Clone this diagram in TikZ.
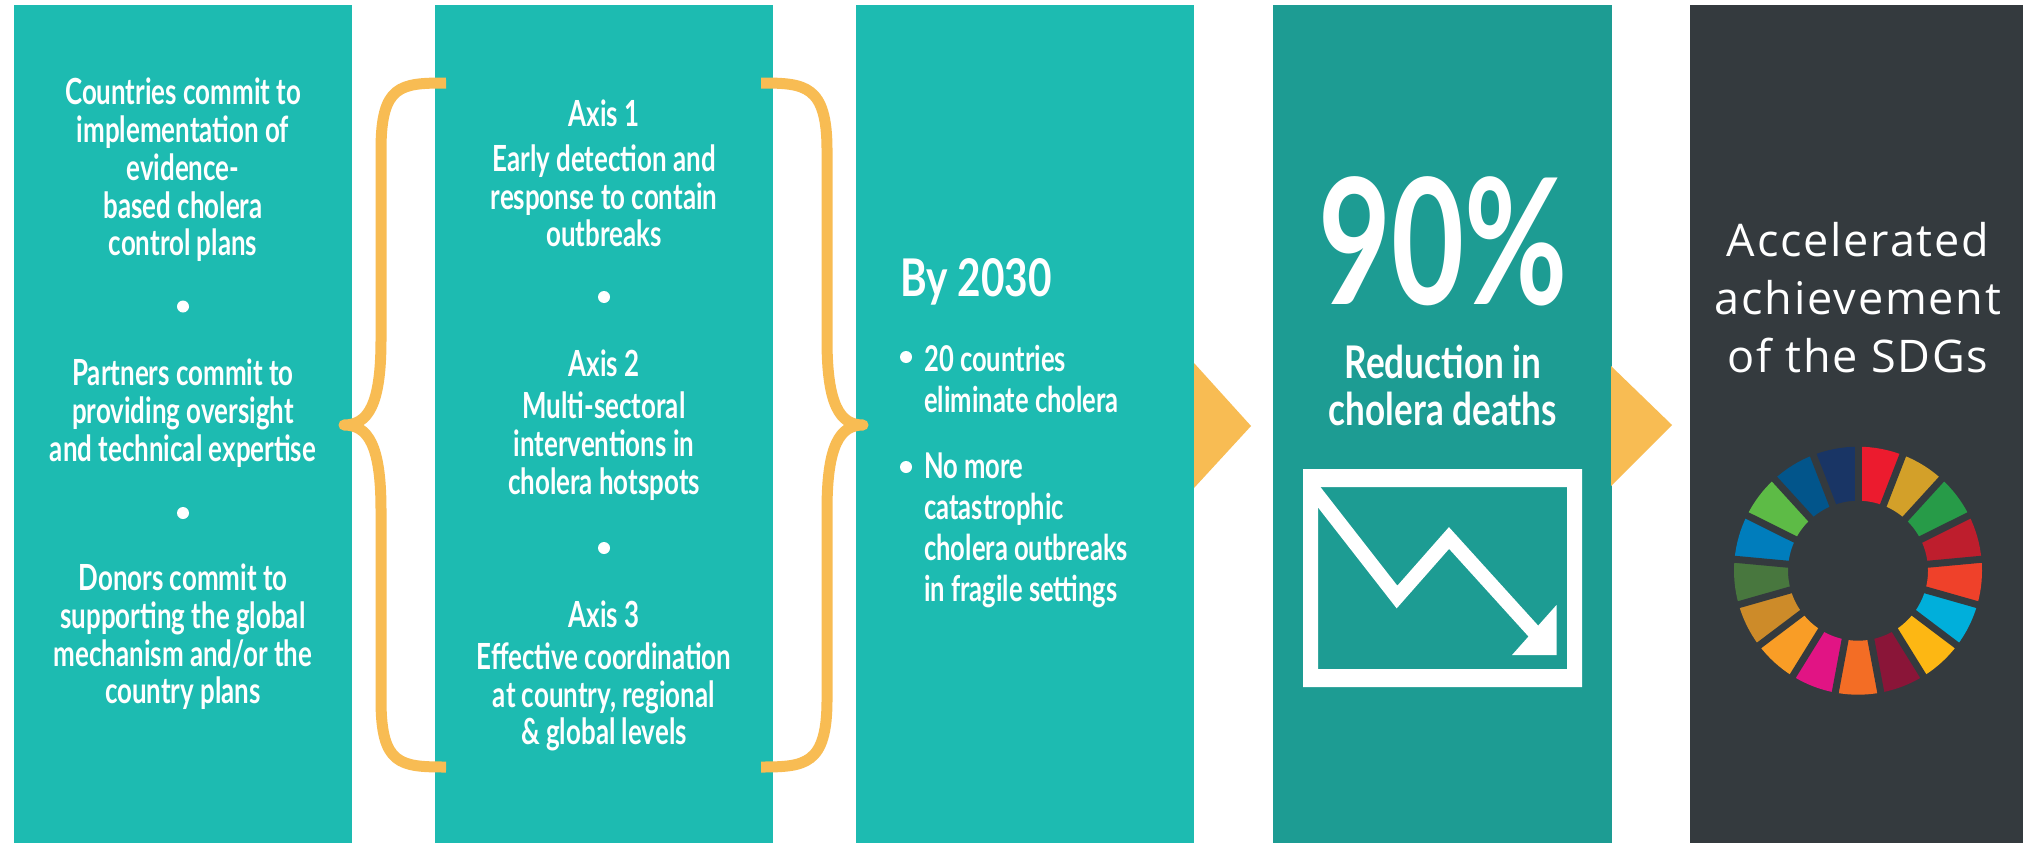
\documentclass[tikz,border=0pt]{standalone}
\usepackage{fontspec}
\usetikzlibrary{calc}
\setmainfont[FakeStretch=0.72,BoldFont=Lato Bold,BoldFeatures={FakeStretch=0.72}]{Lato}
\newfontfamily\slimfont[LetterSpace=4]{Open Sans}
\newfontfamily\bigfont[FakeStretch=0.72]{Lato Bold}
\newfontfamily\headfont[FakeStretch=0.78]{Lato Bold}
\definecolor{tealA}{HTML}{1DBBB1}
\definecolor{tealB}{HTML}{1D9C93}
\definecolor{amberC}{HTML}{F8BC53}
\definecolor{slateD}{HTML}{343A3E}
\tikzset{
 panel/.style={fill=#1,draw=none},
 para/.style={text=white,align=center,inner sep=0pt,font=\fontsize{36}{37.7}\selectfont\bfseries},
 listtext/.style={text=white,align=left,inner sep=0pt,anchor=west,font=\fontsize{35.5}{41}\selectfont\bfseries},
 sepdot/.style={circle,fill=white,inner sep=0pt,minimum size=12pt},
 brace/.style={draw=amberC,line width=11pt,line join=round},
 tri/.style={fill=amberC,draw=none},
}
\begin{document}
\begin{tikzpicture}[x=1pt,y=-1pt]
\useasboundingbox (0,0) rectangle (2023,843);
\fill[white] (0,0) rectangle (2023,843);
% panels
\fill[panel=tealA] (14,5) rectangle (352,843);
\fill[panel=tealA] (435,5) rectangle (773,843);
\fill[panel=tealA] (856,5) rectangle (1194,843);
\fill[panel=tealB] (1273,5) rectangle (1612,843);
\fill[panel=slateD] (1690,5) rectangle (2023,843);
% arrows
\fill[tri] (1194,363) -- (1251,426) -- (1194,488) -- cycle;
\fill[tri] (1611,366) -- (1672,425) -- (1611,486) -- cycle;
% braces
\draw[brace] (446,83) .. controls (400,83) and (381,85) .. (381,150)
  -- (381,340) .. controls (381,405) and (368,425) .. (344,425)
  .. controls (368,425) and (381,445) .. (381,510)
  -- (381,700) .. controls (381,765) and (400,767) .. (446,767);
\draw[brace] (761,83) .. controls (805,83) and (827,85) .. (827,150)
  -- (827,340) .. controls (827,405) and (840,425) .. (863,425)
  .. controls (840,425) and (827,445) .. (827,510)
  -- (827,700) .. controls (827,765) and (805,767) .. (761,767);
% panel 1
\node[para] (c1) at (183,170) {Countries commit to\\implementation of\\evidence-\\based cholera\\control plans};
\node[sepdot] (d1) at (183,306.5) {};
\node[para] (c2) at (183,413) {Partners commit to\\providing oversight\\and technical expertise};
\node[sepdot] (d2) at (183,513) {};
\node[para] (c3) at (183,637) {Donors commit to\\supporting the global\\mechanism and/or the\\country plans};
% panel 2
\node[para] (a1) at (604,113) {Axis 1};
\node[para] (a1t) at (604,196) {Early detection and\\response to contain\\outbreaks};
\node[sepdot] (d3) at (604,297) {};
\node[para] (a2) at (604,363) {Axis 2};
\node[para] (a2t) at (604,446) {Multi-sectoral\\interventions in\\cholera hotspots};
\node[sepdot] (d4) at (604,548) {};
\node[para] (a3) at (604,614) {Axis 3};
\node[para] (a3t) at (604,697) {Effective coordination\\at country, regional\\\& global levels};
% panel 3
\node[text=white,inner sep=0pt,anchor=west,font=\fontsize{52}{54}\selectfont\headfont] (by) at (900,282) {By 2030};
\node[sepdot] (b1) at (906,357) {};
\node[listtext] (t1) at (924,378.5) {20 countries\\eliminate cholera};
\node[sepdot] (b2) at (906,467) {};
\node[listtext] (t2) at (924,530) {No more\\catastrophic\\cholera outbreaks\\in fragile settings};
% panel 4
\node[text=white,inner sep=0pt,font=\fontsize{175}{180}\selectfont\bigfont] (pct) at (1443,241) {90\%};
\node[text=white,inner sep=0pt,align=center,font=\fontsize{45}{47}\selectfont\headfont] (red) at (1443,385) {Reduction in\\cholera deaths};
% chart
\draw[white,line width=14.5pt,miter limit=10] (1312,488) -- (1397,597) -- (1449,538) -- (1536,634);
\fill[white,even odd rule] (1303,469) rectangle (1582,687) (1318,487) rectangle (1567,669);
\fill[white] (1556.5,605) -- (1556.5,655) -- (1512,655) -- cycle;
% panel 5
\node[text=white,inner sep=0pt,align=center,font=\fontsize{45}{58}\selectfont\slimfont] (ach) at (1858,298) {Accelerated\\achievement\\of the SDGs};
% wheel
\coordinate (wc) at (1858,570.7);
\def\Ro{124}\def\Ri{70}
\foreach \col [count=\k from 0] in {EC1B2E,D3A029,279B48,BE1E2D,EF412A,00AFDB,FDB713,8A1538,F36D25,E11484,F99D26,CD8B29,48773E,007DBC,5DBB46,02558B,193565}{
  \definecolor{segc}{HTML}{\col}
  \pgfmathsetmacro{\aa}{-90+\k*360/17}
  \pgfmathsetmacro{\bb}{-90+(\k+1)*360/17}
  \fill[segc] ($(wc)+(\aa:\Ro)$) arc[start angle=\aa,end angle=\bb,radius=\Ro]
     -- ($(wc)+(\bb:\Ri)$) arc[start angle=\bb,end angle=\aa,radius=\Ri] -- cycle;
}
\foreach \k in {0,...,16}{
  \pgfmathsetmacro{\aa}{-90+\k*360/17}
  \draw[slateD,line width=7pt] ($(wc)+(\aa:60)$) -- ($(wc)+(\aa:132)$);
}
\end{tikzpicture}
\end{document}
